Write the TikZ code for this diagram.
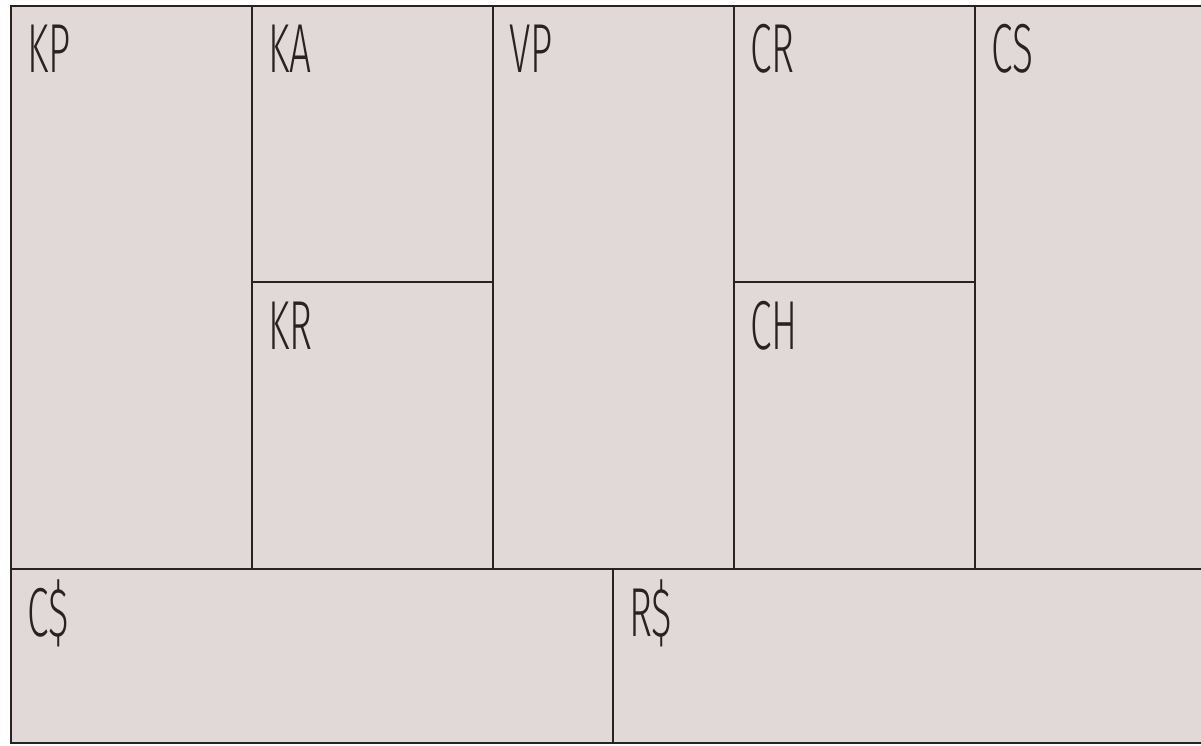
\documentclass[tikz,border=0pt]{standalone}
\usepackage{fontspec}
\setmainfont{Fira Sans Light}[FakeStretch=0.56]
\usetikzlibrary{positioning}
\definecolor{canvas}{RGB}{224,217,215}
\definecolor{rule}{RGB}{40,34,34}

\begin{document}
\begin{tikzpicture}[
  x=0.75pt, y=-0.75pt,
  cell/.style={draw=rule, fill=canvas, line width=1.3pt, anchor=north west, inner sep=0pt, outer sep=0pt, minimum width=180.75pt},
  tall/.style={cell, minimum height=422.25pt},
  upper/.style={cell, minimum height=207pt},
  lower/.style={cell, minimum height=215.25pt},
  base/.style={cell, minimum height=130.5pt},
  tag/.style={anchor=base west, inner sep=0pt, text=rule, font=\fontsize{52}{52}\selectfont}
]
\clip (0,0) rectangle (1201,745);
\node[tall] (kp) at (11,6) {};
\node[upper] (ka) at (kp.north east) {};
\node[lower] (kr) at (ka.south west) {};
\node[tall] (vp) at (ka.north east) {};
\node[upper] (cr) at (vp.north east) {};
\node[lower] (ch) at (cr.south west) {};
\node[tall, minimum width=190pt] (cs) at (cr.north east) {};
\node[base, minimum width=451.5pt] (cost) at (kp.south west) {};
\node[base, minimum width=450pt] (rev) at (cost.north east) {};
\node[tag] (kptag) at ([shift={(16,67)}]kp.north west) {KP};
\node[tag] (katag) at ([shift={(16,67)}]ka.north west) {KA};
\node[tag] (krtag) at ([shift={(16,67)}]kr.north west) {KR};
\node[tag] (vptag) at ([shift={(16,67)}]vp.north west) {VP};
\node[tag] (crtag) at ([shift={(16,67)}]cr.north west) {CR};
\node[tag] (chtag) at ([shift={(16,67)}]ch.north west) {CH};
\node[tag] (cstag) at ([shift={(16,67)}]cs.north west) {CS};
\node[tag] (costtag) at ([shift={(16,67)}]cost.north west) {C\$};
\node[tag] (revtag) at ([shift={(16,67)}]rev.north west) {R\$};
\end{tikzpicture}
\end{document}
